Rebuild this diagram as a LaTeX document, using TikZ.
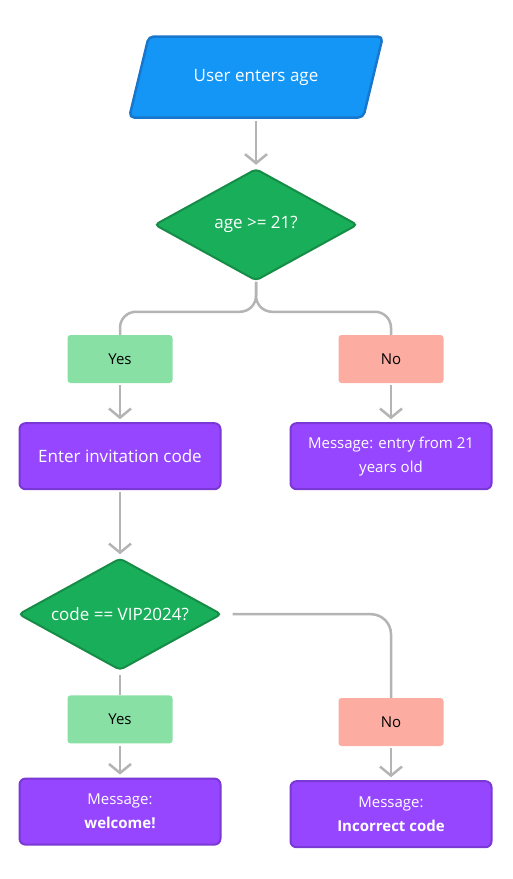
\documentclass[tikz,border=0pt]{standalone}
\usepackage{fontspec}
\setmainfont{Open Sans}
\usetikzlibrary{shapes.geometric, arrows.meta, positioning}

\definecolor{inputblue}{HTML}{1396F6}
\definecolor{inputedge}{HTML}{1877CC}
\definecolor{checkgreen}{HTML}{19AE5A}
\definecolor{checkedge}{HTML}{168C47}
\definecolor{yesgreen}{HTML}{88E0A4}
\definecolor{nored}{HTML}{FCACA0}
\definecolor{stepviolet}{HTML}{9646FF}
\definecolor{stepedge}{HTML}{7A38D4}
\definecolor{flowgray}{HTML}{B4B4B4}

\begin{document}
\begin{tikzpicture}[
        x=1pt, y=-1pt,
        io/.style={trapezium, trapezium left angle=55, trapezium right angle=125, trapezium stretches=true, draw=inputedge, fill=inputblue, line width=2.5pt, rounded corners=5pt, minimum width=254pt, minimum height=81pt, inner sep=0pt, text=white, font=\fontsize{17}{20}\selectfont},
        decision/.style={diamond, aspect=1.8, draw=checkedge, fill=checkgreen, line width=2pt, rounded corners=4pt, minimum width=203pt, minimum height=112pt, inner sep=0pt, text=white, font=\fontsize{17}{20}\selectfont},
        process/.style={rectangle, draw=stepedge, fill=stepviolet, line width=2pt, rounded corners=6pt, minimum width=201pt, minimum height=66pt, align=center, text=white, font=\fontsize{17}{20}\selectfont},
        message/.style={process, font=\fontsize{15}{24}\selectfont},
        yesbox/.style={rectangle, fill=yesgreen, rounded corners=3pt, minimum width=105pt, minimum height=48pt, font=\fontsize{15}{18}\selectfont},
        nobox/.style={yesbox, fill=nored},
        line/.style={draw=flowgray, line width=2.5pt},
        arrow/.style={line, -{Straight Barb[length=9pt, width=22pt]}, shorten <=2pt, shorten >=3pt}
    ]
        % Canvas
        \path[fill=white] (0,0) rectangle (512,879);

        % Nodes
        \node[io] (input) at (256,77) {User enters age};
        \node[decision, below=49pt of input] (age) {age >= 21?};
        \node[yesbox] (yes1) at (120,359) {Yes};
        \node[nobox] (no1) at (391,359) {No};
        \node[process, below=39pt of yes1] (enter) {Enter invitation code};
        \node[message, below=39pt of no1] (tooyoung) {Message: entry from 21\\years old};
        \node[decision, below=67pt of enter] (code) {code == VIP2024?};
        \node[yesbox, below=24pt of code] (yes2) {Yes};
        \node[nobox] (no2) at (391,722) {No};
        \node[message, below=34pt of yes2] (welcome) {Message:\\\textbf{welcome!}};
        \node[message, below=34pt of no2] (wrong) {Message:\\\textbf{Incorrect code}};

        % Paths
        \draw[arrow] (input.south) -- (age.north);
        \draw[line, rounded corners=16pt] (age.south) -- ++(0,30) -| (yes1.north);
        \draw[line, rounded corners=16pt] (age.south) -- ++(0,30) -| (no1.north);
        \draw[arrow] (yes1.south) -- (enter.north);
        \draw[arrow] (no1.south) -- (tooyoung.north);
        \draw[arrow] (enter.south) -- (code.north);
        \draw[line, shorten <=4pt] (code.south) -- (yes2.north);
        \draw[line, rounded corners=20pt, shorten <=10pt] (code.east) -| (no2.north);
        \draw[arrow] (yes2.south) -- (welcome.north);
        \draw[arrow] (no2.south) -- (wrong.north);
    \end{tikzpicture}
\end{document}
